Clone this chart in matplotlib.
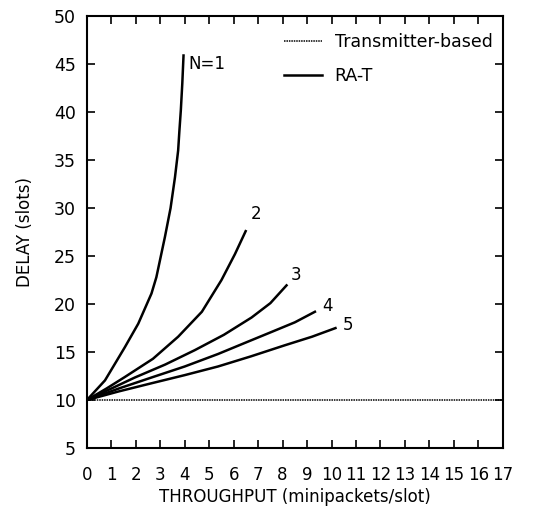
import numpy as np
import matplotlib.pyplot as plt

# RA-T curves (throughput, delay)
n1_x = [0, 0.74, 1.55, 2.10, 2.64, 2.84, 3.19, 3.42, 3.60, 3.73, 3.78, 3.84, 3.90, 3.95]
n1_y = [10, 12.05, 15.5, 17.96, 21.1, 22.8, 27.0, 30.0, 33.2, 36.0, 38.0, 40.2, 43.0, 45.9]
n2_x = [0, 0.8, 1.55, 2.7, 3.73, 4.7, 5.5, 6.05, 6.49]
n2_y = [10, 11.2, 12.4, 14.3, 16.6, 19.2, 22.5, 25.2, 27.6]
n3_x = [0, 1.0, 1.96, 3.2, 4.41, 5.6, 6.73, 7.5, 8.16]
n3_y = [10, 11.2, 12.35, 13.7, 15.2, 16.8, 18.6, 20.1, 21.95]
n4_x = [0, 1.3, 2.64, 4.0, 5.36, 6.5, 7.55, 8.5, 9.32]
n4_y = [10, 11.2, 12.35, 13.5, 14.8, 16.0, 17.1, 18.1, 19.2]
n5_x = [0, 1.3, 2.64, 4.0, 5.36, 6.7, 8.08, 9.2, 10.16]
n5_y = [10, 10.9, 11.75, 12.6, 13.5, 14.55, 15.7, 16.6, 17.5]
curve_labels = ["N=1", "2", "3", "4", "5"]
label_x = [4.15, 6.7, 8.35, 9.6, 10.45]
label_y = [45, 29.4, 23.0, 19.8, 17.8]

# transmitter-based: flat delay
tx_x = [0, 17]
tx_y = [10, 10]

fig = plt.figure(figsize=(5.43, 5.21), dpi=100)
ax = fig.add_axes([0.160, 0.140, 0.766, 0.829])

ax.plot(tx_x, tx_y, color="black", linestyle=(0, (1, 0.6)), linewidth=1.1,
        label="Transmitter-based")
curves = [(n1_x, n1_y), (n2_x, n2_y), (n3_x, n3_y), (n4_x, n4_y), (n5_x, n5_y)]
for i, (xs, ys) in enumerate(curves):
    ax.plot(xs, ys, color="black", linewidth=1.8, solid_joinstyle="round",
            label="RA-T" if i == 0 else None)
    ax.text(label_x[i], label_y[i], curve_labels[i], fontsize=12,
            ha="left", va="center")

ax.set_xlim(0, 17)
ax.set_ylim(5, 50)
ax.set_xticks(np.arange(0, 18, 1))
ax.set_yticks(np.arange(5, 55, 5))
ax.tick_params(direction="in", top=True, right=True, length=6, width=1.2,
               labelsize=12.5, pad=8)
ax.tick_params(axis="x", labelsize=12, pad=13)
for s in ax.spines.values():
    s.set_linewidth(1.5)

ax.set_xlabel("THROUGHPUT (minipackets/slot)", fontsize=12, labelpad=3)
ax.set_ylabel("DELAY (slots)", fontsize=12, labelpad=14)

ax.legend(loc="upper right", frameon=False, fontsize=12.5, handlelength=2.2,
          labelspacing=0.9, handletextpad=0.7, borderaxespad=0.2,
          bbox_to_anchor=(1.0, 0.985))

fig.savefig("out.png", dpi=100)
